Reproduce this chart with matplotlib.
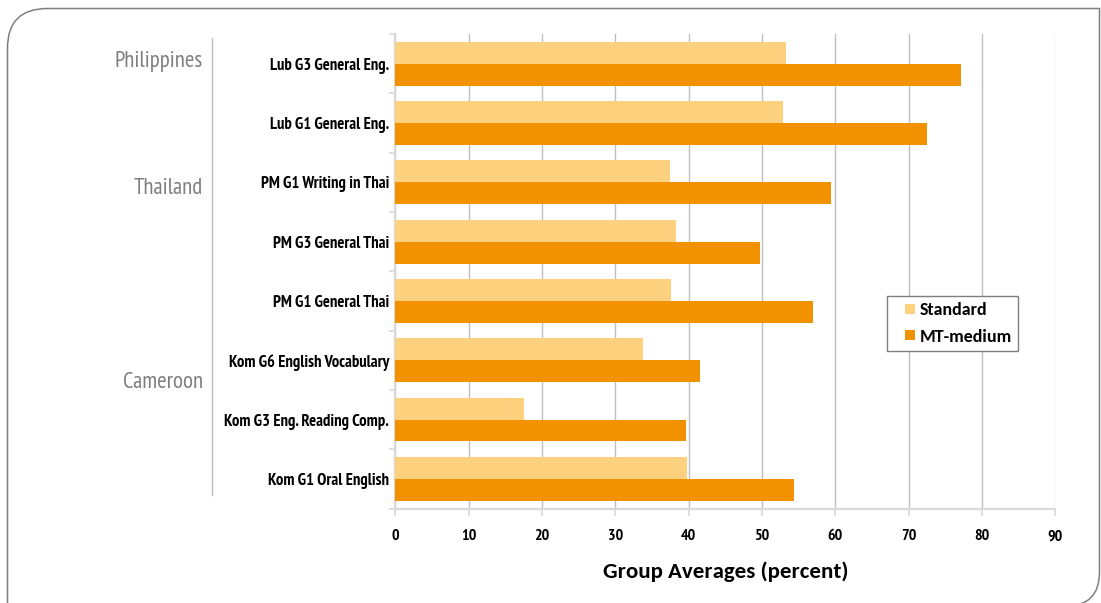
import matplotlib
matplotlib.use("Agg")
import matplotlib.pyplot as plt
from matplotlib.path import Path
from matplotlib.patches import PathPatch
from matplotlib.lines import Line2D

# data, top to bottom as in the chart
tests = ["Lub G3 General Eng.", "Lub G1 General Eng.", "PM G1 Writing in Thai",
         "PM G3 General Thai", "PM G1 General Thai", "Kom G6 English Vocabulary",
         "Kom G3 Eng. Reading Comp.", "Kom G1 Oral English"]
standard = [53.3, 52.8, 37.4, 38.3, 37.6, 33.8, 17.5, 39.8]
mt_medium = [77.1, 72.5, 59.4, 49.7, 56.9, 41.5, 39.6, 54.3]
countries = ["Philippines", "Thailand", "Cameroon"]
country_y = [62, 189, 382]  # pixel rows of the country captions
xticks = list(range(0, 100, 10))

W, H = 1101, 603
narrow = ["PT Sans Narrow", "DejaVu Sans"]
calib = ["Carlito", "Open Sans", "DejaVu Sans"]
light = "#FDD17E"
dark = "#F39200"
axcol = "#D9D9D9"
gridcol = "#BFBFBF"

fig = plt.figure(figsize=(W / 100, H / 100), dpi=100)

def fx(x):
    return x / W

def fy(y):
    return 1 - y / H

ax = fig.add_axes([fx(395.3), fy(508.5), fx(1055.3) - fx(395.3), fy(34) - fy(508.5)])

pos = list(range(len(tests)))
bh = 0.37
ax.barh([p - bh / 2 for p in pos], standard, height=bh, color=light, label="Standard", zorder=3)
ax.barh([p + bh / 2 for p in pos], mt_medium, height=bh, color=dark, label="MT-medium", zorder=3)

ax.set_xlim(0, 90)
ax.set_ylim(len(tests) - 0.5, -0.5)

ax.set_xticks(xticks)
ax.set_xticklabels([str(t) for t in xticks], family=narrow, fontweight="bold", fontsize=11.5)
ax.xaxis.grid(True, color=gridcol, linewidth=1.0, zorder=0)
ax.tick_params(axis="x", length=5, width=1.2, color=axcol, pad=10)

ax.set_yticks([p - 0.5 for p in range(len(tests) + 1)])
ax.set_yticklabels([])
ax.set_yticks(pos, minor=True)
ax.set_yticklabels(tests, minor=True, family=narrow, fontweight="bold", fontsize=12)
ax.tick_params(axis="y", which="major", length=4, width=1.2, color=axcol)
ax.tick_params(axis="y", which="minor", length=0, pad=4.5)

for side in ["top", "right"]:
    ax.spines[side].set_visible(False)
for side in ["left", "bottom"]:
    ax.spines[side].set_color(axcol)
    ax.spines[side].set_linewidth(1.6)
ax.set_axisbelow(True)

ax.set_xlabel("Group Averages (percent)", family=calib, fontweight="bold", fontsize=16.5, labelpad=13)

handles = [Line2D([], [], linestyle="none", marker="s", markersize=6.5, markeredgewidth=0,
                  markerfacecolor=light, label="Standard"),
           Line2D([], [], linestyle="none", marker="s", markersize=6.5, markeredgewidth=0,
                  markerfacecolor=dark, label="MT-medium")]
leg = fig.legend(handles=handles, loc="upper left", bbox_to_anchor=(fx(886.7), fy(296)),
                 prop={"family": calib, "weight": "bold", "size": 13},
                 handlelength=1.9, handletextpad=-0.4, borderpad=0.33, labelspacing=0.6,
                 borderaxespad=0, fancybox=False, framealpha=1)
leg.get_frame().set_edgecolor("#7F7F7F")
leg.get_frame().set_linewidth(1.0)

# country captions and separator
for name, y in zip(countries, country_y):
    fig.text(fx(203), fy(y), name, ha="right", va="center", family=narrow,
             fontsize=16.5, color="#7F7F7F")
fig.add_artist(Line2D([fx(212), fx(212)], [fy(38), fy(495)], color=gridcol, linewidth=1.0))

# outer rounded frame
verts = [(7.5, 610), (7.5, 48), (7.5, 8.5), (47.5, 8.5), (1099.5, 8.5), (1099.5, 572),
         (1099.5, 606), (1066, 606)]
codes = [Path.MOVETO, Path.LINETO, Path.CURVE3, Path.CURVE3, Path.LINETO, Path.LINETO,
         Path.CURVE3, Path.CURVE3]
frame = Path([(fx(x), fy(y)) for x, y in verts], codes)
fig.add_artist(PathPatch(frame, transform=fig.transFigure, facecolor="none",
                         edgecolor="#7F7F7F", linewidth=1.1))

fig.savefig("out.png", dpi=100)
